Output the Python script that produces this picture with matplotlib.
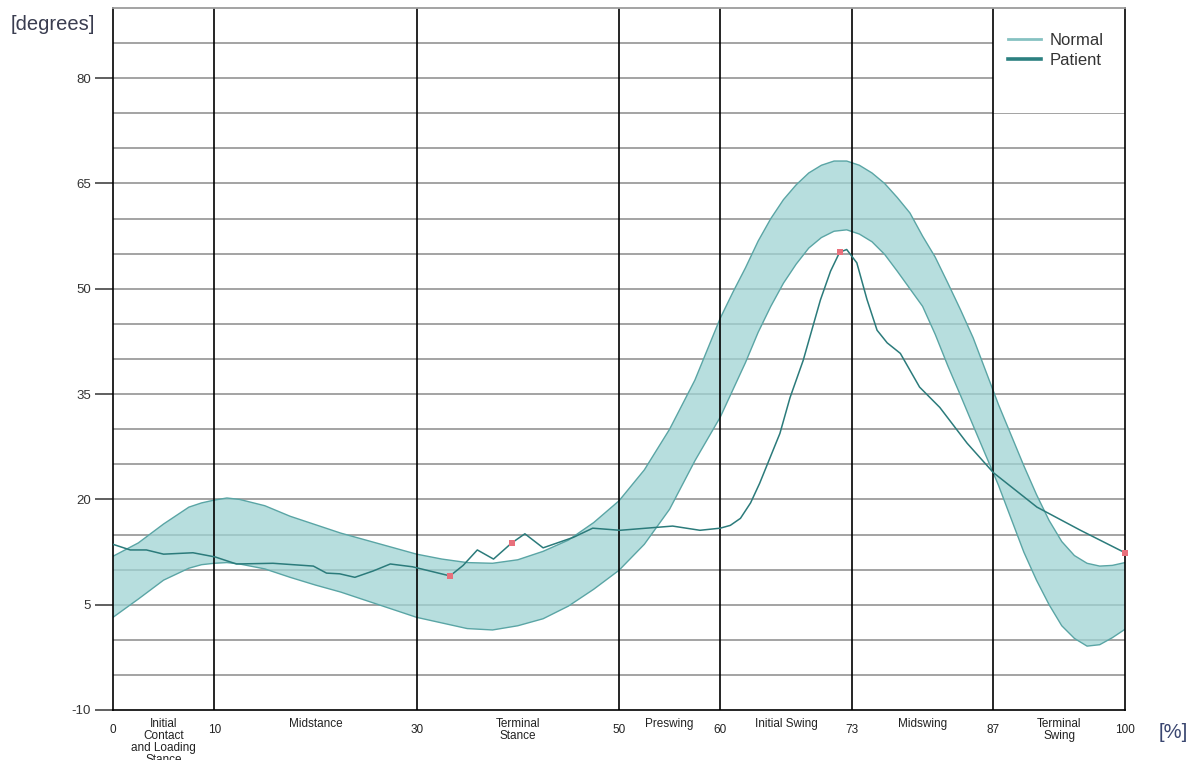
import matplotlib
matplotlib.use("Agg")
import matplotlib.pyplot as plt
from matplotlib.lines import Line2D
from matplotlib.patches import Rectangle

plt.rcParams['font.family'] = ['Liberation Sans', 'DejaVu Sans']

# Normal band (upper / lower limits), gait cycle in percent
normal_x = [0, 2.5, 5, 7.5, 8.75, 10, 11.25, 12.5, 15, 17.5, 20, 22.5, 25, 27.5,
            30, 32.5, 35, 37.5, 40, 42.5, 45, 47.5, 50, 52.5, 55, 57.5, 60, 61.25,
            62.5, 63.75, 65, 66.25, 67.5, 68.75, 70, 71.25, 72.5, 73.75, 75, 76.25,
            77.5, 78.75, 80, 81.25, 82.5, 83.75, 85, 87.5, 90, 91.25, 92.5, 93.75,
            95, 96.25, 97.5, 98.75, 100]
normal_upper = [11.9, 13.8, 16.5, 18.9, 19.5, 19.9, 20.2, 20.0, 19.1, 17.6, 16.4,
                15.2, 14.2, 13.2, 12.2, 11.5, 11.0, 10.9, 11.4, 12.6, 14.2, 16.7,
                19.8, 24.2, 30.0, 37.0, 45.8, 49.5, 53.0, 56.8, 60.0, 62.7, 64.8,
                66.5, 67.6, 68.2, 68.2, 67.6, 66.5, 65.0, 63.0, 60.8, 57.5, 54.5,
                50.8, 47.0, 43.0, 33.5, 24.8, 20.7, 17.0, 14.0, 12.0, 10.9, 10.5,
                10.6, 11.0]
normal_lower = [3.2, 5.8, 8.5, 10.2, 10.7, 10.9, 11.0, 10.8, 10.1, 8.9, 7.8, 6.8,
                5.6, 4.4, 3.2, 2.4, 1.6, 1.4, 2.0, 3.0, 4.8, 7.2, 9.9, 13.6, 18.6,
                25.5, 31.7, 35.6, 39.5, 43.8, 47.5, 50.8, 53.5, 55.8, 57.3, 58.2,
                58.4, 57.8, 56.7, 54.9, 52.5, 50.0, 47.5, 43.5, 39.0, 34.8, 30.5,
                22.0, 12.5, 8.5, 5.0, 2.0, 0.2, -0.9, -0.7, 0.3, 1.5]

# Patient curve
patient_x = [0, 1.7, 3.3, 5, 7.9, 10.1, 12.2, 15.8, 19.8, 21.1, 22.4, 23.9, 25.7,
             27.4, 29.6, 33.3, 34.6, 36, 37.6, 39.4, 40.7, 42.5, 45.5, 47.4, 50.1,
             55.3, 58, 60, 61, 62, 63, 63.9, 65.9, 66.9, 68.2, 69.9, 70.9, 71.8,
             72.5, 73.5, 74.5, 75.5, 76.5, 77.8, 79.7, 81.7, 84.4, 87, 91.3, 95.6,
             100]
patient_y = [13.6, 12.8, 12.8, 12.2, 12.4, 11.8, 10.8, 10.9, 10.5, 9.5, 9.4, 8.9,
             9.8, 10.8, 10.4, 9.1, 10.6, 12.8, 11.5, 13.8, 15.1, 13.1, 14.6, 15.9,
             15.6, 16.2, 15.6, 15.9, 16.3, 17.3, 19.5, 22.3, 29.4, 34.5, 39.8,
             48.4, 52.5, 55.2, 55.6, 53.7, 48.5, 44.1, 42.3, 40.8, 36.0, 33.1,
             28.0, 23.8, 18.9, 15.6, 12.4]

# Highlighted patient points
marker_x = [33.3, 39.4, 71.8, 100]
marker_y = [9.1, 13.8, 55.2, 12.4]

# Axis ticks and gait phases
phase_ticks = [0, 10, 30, 50, 60, 73, 87, 100]
y_ticks = [-10, 5, 20, 35, 50, 65, 80]
phase_names = ["Initial\nContact\nand Loading\nStance", "Midstance",
               "Terminal\nStance", "Preswing", "Initial Swing", "Midswing",
               "Terminal\nSwing"]
phase_pos = [5, 20, 40, 55, 66.5, 80, 93.5]

fig = plt.figure(figsize=(11.98, 7.6), dpi=100)
ax = fig.add_axes([113 / 1198, 50 / 760, 1012 / 1198, 702 / 760])
ax.set_xlim(0, 100)
ax.set_ylim(-10, 90)

# grid
for v in range(-5, 90, 5):
    ax.axhline(v, color='#9c9c9c', lw=1.3, zorder=1)

# legend area covers the grid
ax.add_patch(Rectangle((87, 75), 13, 15, facecolor='white', edgecolor='none', zorder=1.5))

for v in phase_ticks[1:-1]:
    ax.axvline(v, color='black', lw=1.2, zorder=2.5)

ax.fill_between(normal_x, normal_lower, normal_upper, facecolor='#9fd3d3',
                alpha=0.75, edgecolor='none', zorder=2)
ax.plot(normal_x, normal_upper, color='#5aa5a5', lw=1.0, zorder=2.2)
ax.plot(normal_x, normal_lower, color='#5aa5a5', lw=1.0, zorder=2.2)

ax.plot(patient_x, patient_y, color='#2b7b7b', lw=1.1, zorder=3,
        solid_joinstyle='round')
ax.scatter(marker_x, marker_y, marker='s', s=14, color='#e8707c', zorder=4,
           clip_on=False, linewidths=0)

for side in ['left', 'bottom', 'right']:
    ax.spines[side].set_color('black')
    ax.spines[side].set_linewidth(1.2)
ax.spines['top'].set_color('#9c9c9c')
ax.spines['top'].set_linewidth(1.3)

ax.set_yticks(y_ticks)
ax.set_yticklabels([str(v) for v in y_ticks])
ax.tick_params(axis='y', length=13, width=1.2, color='#444444', pad=3,
               labelsize=9.5, labelcolor='#333333')
ax.set_xticks(phase_ticks)
ax.set_xticklabels([str(v) for v in phase_ticks])
ax.tick_params(axis='x', length=0, pad=10, labelsize=8.5, labelcolor='#222222')

for name, pos in zip(phase_names, phase_pos):
    ax.text(pos, -0.011, name, transform=ax.get_xaxis_transform(), ha='center',
            va='top', fontsize=8.5, color='#222222', linespacing=1.0)

fig.text(53 / 1198, 1 - 25 / 760, "[degrees]", ha='center', va='center',
         fontsize=14.5, color='#3a3d50')
fig.text(1173 / 1198, 1 - 733 / 760, "[%]", ha='center', va='center',
         fontsize=14.5, color='#3a4670')

handles = [Line2D([], [], color='#86c2c2', lw=2.0),
           Line2D([], [], color='#2b8080', lw=2.6)]
leg = ax.legend(handles, ["Normal", "Patient"], loc='upper left',
                bbox_to_anchor=(0.884, 0.964), borderaxespad=0, borderpad=0,
                frameon=False, fontsize=12, handlelength=2.0, handletextpad=0.5,
                labelspacing=0.3)
for t in leg.get_texts():
    t.set_color('#333333')

fig.savefig("out.png", dpi=100)
